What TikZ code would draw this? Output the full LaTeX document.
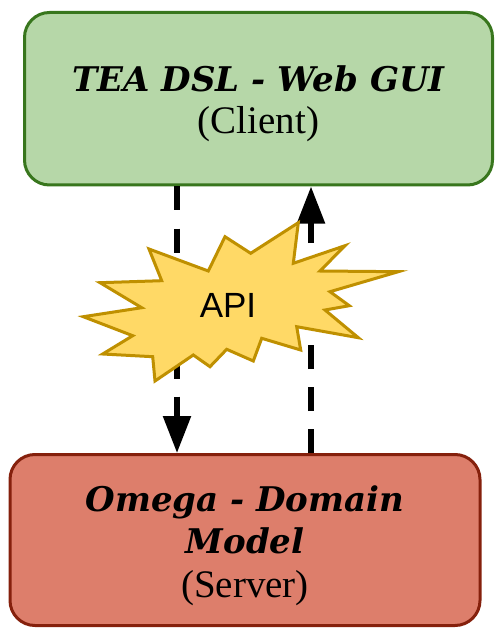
\documentclass[tikz,border=0pt]{standalone}
\usepackage{fontspec}
\setmainfont{Liberation Serif}
\newfontfamily\headfont{DejaVu Serif}
\newfontfamily\apifont{Liberation Sans}
\usetikzlibrary{arrows.meta}

\definecolor{clientfill}{HTML}{B6D7A8}
\definecolor{clientline}{HTML}{38761D}
\definecolor{serverfill}{HTML}{DD7E6B}
\definecolor{serverline}{HTML}{85200C}
\definecolor{burstfill}{HTML}{FFD966}
\definecolor{burstline}{HTML}{BF9000}

\newcommand\headline[1]{{\headfont\bfseries\itshape\fontsize{34}{42}\selectfont #1}}

\tikzset{
  tier/.style={rounded corners=25pt, line width=3pt},
  tierlabel/.style={align=center, inner sep=0pt, font=\fontsize{39}{42}\selectfont},
  flow/.style={line width=5.5pt, dash pattern=on 24pt off 18pt,
    -{Triangle[width=27pt,length=37pt]}},
  burst/.style={line width=3pt, line join=miter, fill=burstfill, draw=burstline},
}

\begin{document}
\begin{tikzpicture}[x=1pt,y=-1pt]
\useasboundingbox (0,0) rectangle (495,628);

% client and server tiers
\node[tier, fill=clientfill, draw=clientline,
      minimum width=468pt, minimum height=172.5pt] (client) at (258.5,98.75) {};
\node[tier, fill=serverfill, draw=serverline,
      minimum width=470pt, minimum height=171pt] (server) at (245,540) {};
\node[tierlabel] (clientlabel) at ([yshift=-5pt]client.center)
  {\headline{TEA DSL - Web GUI}\\(Client)};
\node[tierlabel] (serverlabel) at ([yshift=-6pt]server.center)
  {\headline{Omega - Domain}\\\headline{Model}\\[2pt](Server)};

% request / response links
\coordinate (reqx) at (177,0);
\coordinate (resx) at (311,0);
\draw[flow] (client.south -| reqx) -- (server.north -| reqx);
\draw[flow] (server.north -| resx) -- (client.south -| resx);

% API explosion
\draw[burst] (298.3,222.7) -- (293.3,263.3) -- (345,245.7) -- (320,271)
  -- (398.3,271.7) -- (330,291.7) -- (349.3,305.7) -- (325,310)
  -- (358.3,337.7) -- (296.7,326.7) -- (300.7,350) -- (261.7,338.3)
  -- (253.3,361) -- (226.7,349.3) -- (210,366.7) -- (193.3,355)
  -- (155,381) -- (152.7,356.7) -- (102.7,354) -- (132.7,335.7)
  -- (83.3,316.7) -- (141.7,307.7) -- (100,282.7) -- (161.7,280.7)
  -- (149,249) -- (208.3,271) -- (225,236.7) -- (250.7,253.3) -- cycle;
\node[font=\apifont\fontsize{35}{38}\selectfont, inner sep=0pt] (api) at (228,305) {API};
\end{tikzpicture}
\end{document}
